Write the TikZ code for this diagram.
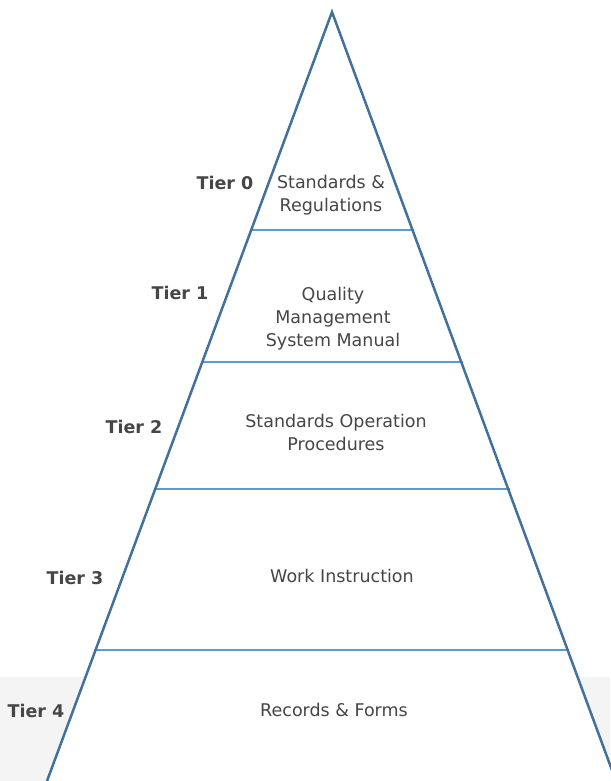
\documentclass[tikz,border=0pt]{standalone}
\usepackage{fontspec}
\setmainfont{DejaVu Sans}
\usepackage{tikz}
\usepackage{xcolor}
\usetikzlibrary{calc}
\definecolor{pyredge}{RGB}{65, 113, 156}
\definecolor{tierline}{RGB}{91, 155, 213}
\definecolor{bandgray}{RGB}{244, 244, 244}
\definecolor{txtgray}{RGB}{70, 70, 70}
\tikzset{
    tierlabel/.style={font=\fontsize{17.5}{23}\selectfont\bfseries, text=txtgray},
    tiertext/.style={font=\fontsize{17.5}{23}\selectfont, text=txtgray, align=center},
    divider/.style={draw=tierline, line width=1.1pt},
    pyramid/.style={draw=pyredge, line width=2.5pt, line join=miter}
}

\begin{document}
\begin{tikzpicture}[x=1pt, y=-1pt]
                \useasboundingbox (0,0) rectangle (610,781);
                \coordinate (apex) at (332,12);
                \coordinate (bl) at (47,781);
                \coordinate (br) at (616,781);
                % grey band behind the base
                \fill[bandgray] (0,677) rectangle (610,781);
                \fill[white] (apex) -- (bl) -- (br) -- cycle;
                % tier dividers
                \foreach \y/\n in {230/0, 362/1, 489/2, 650/3} {
                    \coordinate (l\n) at ($(apex)!{(\y-12)/769}!(bl)$);
                    \coordinate (r\n) at ($(apex)!{(\y-12)/769}!(br)$);
                    \draw[divider] ([xshift=-1.5pt]l\n) -- ([xshift=1.5pt]r\n);
                }
                \draw[pyramid] (bl) -- (apex) -- (br);
                % contents
                \node[tiertext] (t0) at (331,195.5) {Standards \&\\Regulations};
                \node[tiertext] (t1) at (333,319) {Quality\\Management\\System Manual};
                \node[tiertext] (t2) at (336,432) {Standards Operation\\Procedures};
                \node[tiertext] (t3) at (342,576) {Work Instruction};
                \node[tiertext] (t4) at (334,710) {Records \& Forms};
                % tier labels
                \node[tierlabel] (tier0) at (225,183) {Tier 0};
                \node[tierlabel] (tier1) at (180,293) {Tier 1};
                \node[tierlabel] (tier2) at (134,427) {Tier 2};
                \node[tierlabel] (tier3) at (75,578) {Tier 3};
                \node[tierlabel] (tier4) at (36,711) {Tier 4};
            \end{tikzpicture}
\end{document}
